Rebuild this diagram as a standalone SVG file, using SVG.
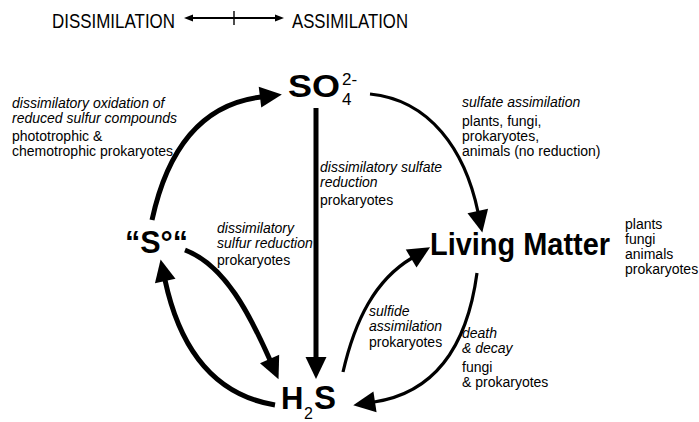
<svg xmlns="http://www.w3.org/2000/svg" width="699" height="422" viewBox="0 0 699 422">
<style>
text{font-family:"Liberation Sans",Arial,sans-serif;fill:#000}
.hd{font-size:21px}
.nd{font-size:31px;font-weight:bold}
.lb{font-size:14px}
.it{font-style:italic}
.cn{fill:none;stroke:#000}
.thick{stroke-width:5}
.thin{stroke-width:3.2}
</style>
<defs>
<marker id="ah" markerUnits="userSpaceOnUse" markerWidth="24" markerHeight="24" viewBox="0 -12 24 24" refX="1" refY="0" orient="auto" overflow="visible">
<path d="M0,-10.5 L22,0 L0,10.5 Z" fill="#000"/>
</marker>
<marker id="sm" markerUnits="userSpaceOnUse" markerWidth="10" markerHeight="10" viewBox="0 -5 10 10" refX="1" refY="0" orient="auto-start-reverse" overflow="visible">
<path d="M0,-3.5 L9,0 L0,3.5 Z" fill="#000"/>
</marker>
</defs>

<g id="header">
<text class="hd" x="52" y="28" textLength="123" lengthAdjust="spacingAndGlyphs">DISSIMILATION</text>
<text class="hd" x="292" y="28" textLength="116" lengthAdjust="spacingAndGlyphs">ASSIMILATION</text>
<path class="cn" stroke-width="1.8" d="M192,18 L276,18" marker-start="url(#sm)" marker-end="url(#sm)"/>
<path class="cn" stroke-width="1.4" d="M234,11 L234,25"/>
</g>

<g id="connectors">
<path class="cn thick" d="M152,220 C165,160 195,105 261,97" marker-end="url(#ah)"/>
<path class="cn thin" d="M370,94 C430,100 465,150 478,212" marker-end="url(#ah)"/>
<path class="cn thick" d="M316,108 L316,358" marker-end="url(#ah)"/>
<path class="cn thick" d="M185,250 C225,265 250,315 270,360" marker-end="url(#ah)"/>
<path class="cn thick" d="M275,405 C215,395 180,350 165,280" marker-end="url(#ah)"/>
<path class="cn thin" d="M343,372 C355,320 375,280 412,258" marker-end="url(#ah)"/>
<path class="cn thin" d="M477,273 C468,340 440,392 374,402" marker-end="url(#ah)"/>
</g>

<g id="so4">
<text class="nd" x="288" y="97" textLength="52" lengthAdjust="spacingAndGlyphs">SO</text>
<text x="342" y="85" font-size="17">2-</text>
<text x="342" y="105" font-size="17">4</text>
</g>

<g id="s0">
<text class="nd" x="125" y="253" textLength="63" lengthAdjust="spacingAndGlyphs">“S°“</text>
</g>

<g id="living">
<text class="nd" x="430" y="255" textLength="180" lengthAdjust="spacingAndGlyphs">Living Matter</text>
<text class="lb" x="625" y="229">plants</text>
<text class="lb" x="625" y="244">fungi</text>
<text class="lb" x="625" y="259">animals</text>
<text class="lb" x="625" y="274">prokaryotes</text>
</g>

<g id="h2s">
<text class="nd" x="281" y="409">H<tspan x="304" y="419" font-size="16" font-weight="normal">2</tspan><tspan x="314" y="409" font-size="33">S</tspan></text>
</g>

<g id="labels">
<text class="lb it" x="12" y="108">dissimilatory oxidation of</text>
<text class="lb it" x="12" y="123">reduced sulfur compounds</text>
<text class="lb" x="12" y="141">phototrophic &amp;</text>
<text class="lb" x="12" y="156">chemotrophic prokaryotes</text>

<text class="lb it" x="462" y="107">sulfate assimilation</text>
<text class="lb" x="462" y="126">plants, fungi,</text>
<text class="lb" x="462" y="141">prokaryotes,</text>
<text class="lb" x="462" y="156">animals (no reduction)</text>

<text class="lb it" x="320" y="172">dissimilatory sulfate</text>
<text class="lb it" x="320" y="187">reduction</text>
<text class="lb" x="320" y="205">prokaryotes</text>

<text class="lb it" x="217" y="233">dissimilatory</text>
<text class="lb it" x="217" y="248">sulfur reduction</text>
<text class="lb" x="217" y="265">prokaryotes</text>

<text class="lb it" x="369" y="316">sulfide</text>
<text class="lb it" x="369" y="331">assimilation</text>
<text class="lb" x="369" y="347">prokaryotes</text>

<text class="lb it" x="462" y="338">death</text>
<text class="lb it" x="462" y="353">&amp; decay</text>
<text class="lb" x="462" y="372">fungi</text>
<text class="lb" x="462" y="387">&amp; prokaryotes</text>
</g>
</svg>
